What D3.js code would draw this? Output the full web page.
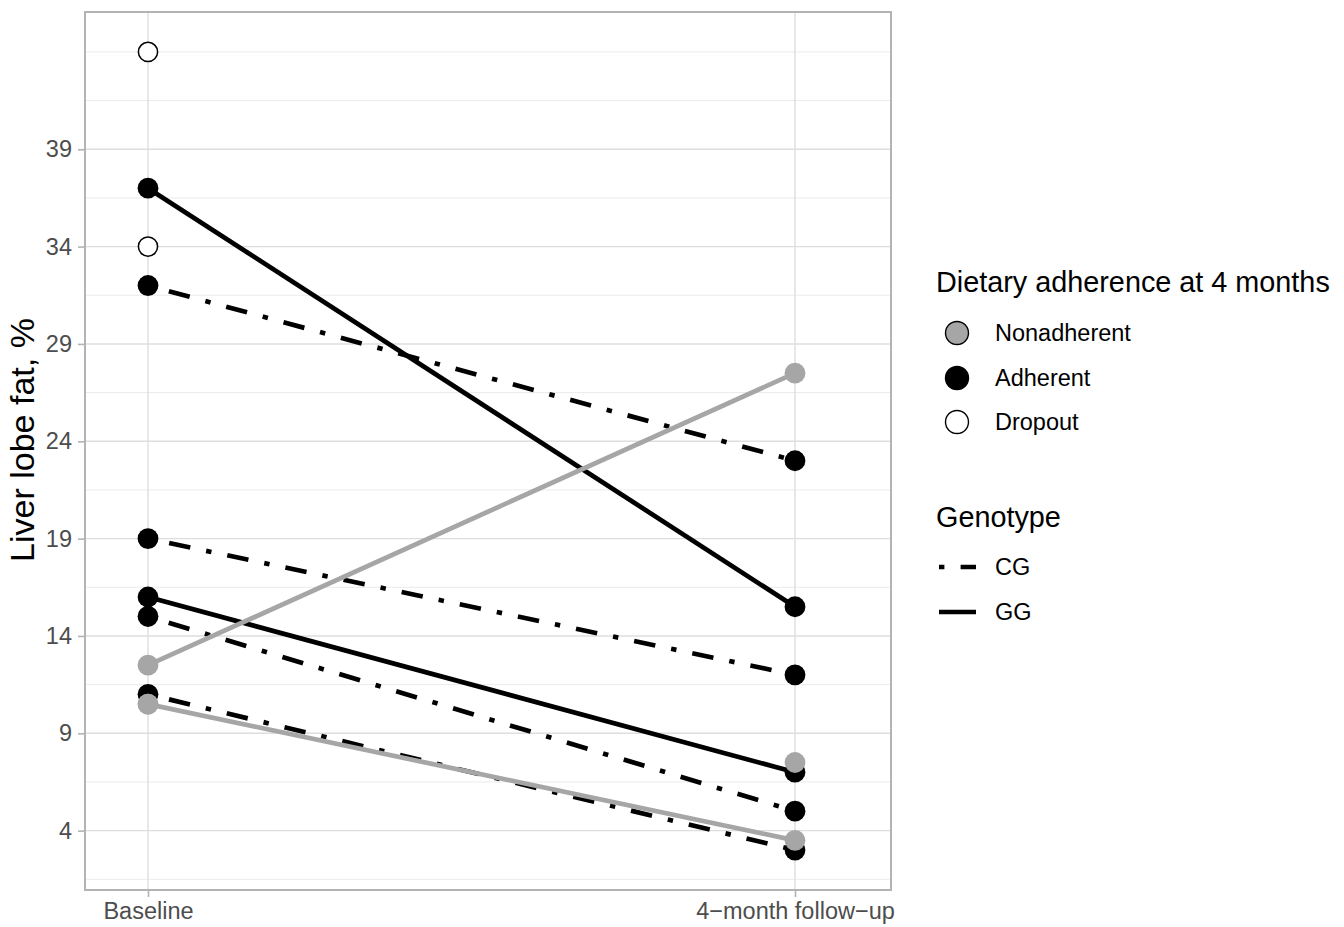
<!DOCTYPE html>
<html>
<head>
<meta charset="utf-8">
<script src="https://cdn.jsdelivr.net/npm/d3@7"></script>
<style>
  html, body { margin: 0; padding: 0; background: #fff; }
  svg { display: block; font-family: "Liberation Sans", Arial, Helvetica, sans-serif; }
</style>
</head>
<body>
<svg id="chart" width="1344" height="927"></svg>
<script>
// ---- data ----
const timepoints = ["Baseline", "4\u2212month follow\u2212up"];
const baselineFat = [37, 32, 19, 16, 15, 11, 12.5, 10.5, 10.5, 44, 34];
const followupFat = [15.5, 23, 12, 7, 5, 3, 27.5, 3.5, 7.5, null, null];
const adherence = ["Adherent", "Adherent", "Adherent", "Adherent", "Adherent", "Adherent",
                   "Nonadherent", "Nonadherent", "Nonadherent", "Dropout", "Dropout"];
const genotype = ["GG", "CG", "CG", "GG", "CG", "CG", "GG", "GG", null, null, null];
const yTicks = [4, 9, 14, 19, 24, 29, 34, 39];
const yMinor = [1.5, 6.5, 11.5, 16.5, 21.5, 26.5, 31.5, 36.5, 41.5, 44];
const adherenceLevels = ["Nonadherent", "Adherent", "Dropout"];
const genotypeLevels = ["CG", "GG"];

// ---- styles ----
const fillColor = { Nonadherent: "#A6A6A6", Adherent: "#000000", Dropout: "#FFFFFF" };
const lineColor = { Nonadherent: "#A6A6A6", Adherent: "#000000" };
const dash = { CG: "5.4 16.2 21.6 16.2", GG: null };

const svg = d3.select("#chart");
const panel = { left: 85, right: 891, top: 12, bottom: 890 };

const x = d3.scaleLinear().domain([-63 / 647, 1 + 96 / 647]).range([panel.left, panel.right]);
const y = d3.scaleLinear().domain([0.95, 46.05]).range([panel.bottom, panel.top]);

// ---- grid ----
const grid = svg.append("g");
grid.selectAll(".minor").data(yMinor).join("line")
  .attr("x1", panel.left).attr("x2", panel.right)
  .attr("y1", d => y(d)).attr("y2", d => y(d))
  .attr("stroke", "#EBEBEB").attr("stroke-width", 1);
grid.selectAll(".major").data(yTicks).join("line")
  .attr("x1", panel.left).attr("x2", panel.right)
  .attr("y1", d => y(d)).attr("y2", d => y(d))
  .attr("stroke", "#DEDEDE").attr("stroke-width", 1.4);
grid.selectAll(".vmajor").data([0, 1]).join("line")
  .attr("x1", d => x(d)).attr("x2", d => x(d))
  .attr("y1", panel.top).attr("y2", panel.bottom)
  .attr("stroke", "#DEDEDE").attr("stroke-width", 1.4);

// ---- lines ----
const rows = baselineFat.map((b, i) => ({ b, f: followupFat[i], a: adherence[i], g: genotype[i] }));
const lineRows = rows.filter(r => r.f != null && r.g != null);
const lineOrder = lineRows.filter(r => r.a === "Adherent").concat(lineRows.filter(r => r.a === "Nonadherent"));
const lineGen = d3.line().x(d => x(d[0])).y(d => y(d[1]));
svg.append("g").selectAll("path").data(lineOrder).join("path")
  .attr("d", r => lineGen([[0, r.b], [1, r.f]]))
  .attr("fill", "none")
  .attr("stroke", r => lineColor[r.a])
  .attr("stroke-width", 4.7)
  .attr("stroke-linecap", "butt")
  .attr("stroke-dasharray", r => dash[r.g]);

// ---- points ----
const pts = [];
rows.forEach(r => {
  pts.push({ t: 0, v: r.b, a: r.a });
  if (r.f != null) pts.push({ t: 1, v: r.f, a: r.a });
});
const ptOrder = ["Adherent", "Nonadherent", "Dropout"];
pts.sort((p, q) => ptOrder.indexOf(p.a) - ptOrder.indexOf(q.a));
svg.append("g").selectAll("circle").data(pts).join("circle")
  .attr("cx", d => x(d.t)).attr("cy", d => y(d.v))
  .attr("r", d => d.a === "Dropout" ? 9.6 : 10.4)
  .attr("fill", d => fillColor[d.a])
  .attr("stroke", d => d.a === "Dropout" ? "#000" : "none")
  .attr("stroke-width", 1.5);

// ---- panel border ----
svg.append("rect")
  .attr("x", panel.left).attr("y", panel.top)
  .attr("width", panel.right - panel.left).attr("height", panel.bottom - panel.top)
  .attr("fill", "none").attr("stroke", "#B3B3B3").attr("stroke-width", 2);

// ---- axes ----
const yAxis = d3.axisLeft(y).tickValues(yTicks).tickSize(7).tickPadding(6).tickFormat(d3.format("d"));
const yg = svg.append("g").attr("transform", `translate(${panel.left},0)`).call(yAxis);
yg.select(".domain").remove();
yg.selectAll(".tick line").attr("stroke", "#B3B3B3").attr("stroke-width", 1.6);
yg.selectAll(".tick text").attr("fill", "#4D4D4D").style("font-size", "23.5px")
  .attr("font-family", "Liberation Sans, Arial, sans-serif");

const xAxis = d3.axisBottom(x).tickValues([0, 1]).tickSize(7).tickPadding(5).tickFormat(i => timepoints[i]);
const xg = svg.append("g").attr("transform", `translate(0,${panel.bottom})`).call(xAxis);
xg.select(".domain").remove();
xg.selectAll(".tick line").attr("stroke", "#B3B3B3").attr("stroke-width", 1.6);
xg.selectAll(".tick text").attr("fill", "#4D4D4D").style("font-size", "23.5px")
  .attr("font-family", "Liberation Sans, Arial, sans-serif");

svg.append("text")
  .attr("transform", `translate(34,${440}) rotate(-90)`)
  .attr("text-anchor", "middle")
  .style("font-size", "34px")
  .attr("fill", "#000")
  .text("Liver lobe fat, %");

// ---- legend: adherence ----
const leg = svg.append("g");
leg.append("text").attr("x", 936).attr("y", 292).style("font-size", "28.8px").text("Dietary adherence at 4 months");
const legY = [333, 378, 422];
adherenceLevels.forEach((lv, i) => {
  leg.append("circle").attr("cx", 957).attr("cy", legY[i]).attr("r", 11.5)
    .attr("fill", fillColor[lv]).attr("stroke", "#000").attr("stroke-width", 1.4);
  leg.append("text").attr("x", 995).attr("y", legY[i]).attr("dy", "0.36em")
    .style("font-size", "23.5px").text(lv);
});

// ---- legend: genotype ----
leg.append("text").attr("x", 936).attr("y", 527).style("font-size", "28.8px").text("Genotype");
const genY = [567, 612];
genotypeLevels.forEach((g, i) => {
  leg.append("line").attr("x1", 939).attr("x2", 976).attr("y1", genY[i]).attr("y2", genY[i])
    .attr("stroke", "#000").attr("stroke-width", 4.7).attr("stroke-linecap", "butt")
    .attr("stroke-dasharray", dash[g]);
  leg.append("text").attr("x", 995).attr("y", genY[i]).attr("dy", "0.36em")
    .style("font-size", "23.5px").text(g);
});
</script>
</body>
</html>
